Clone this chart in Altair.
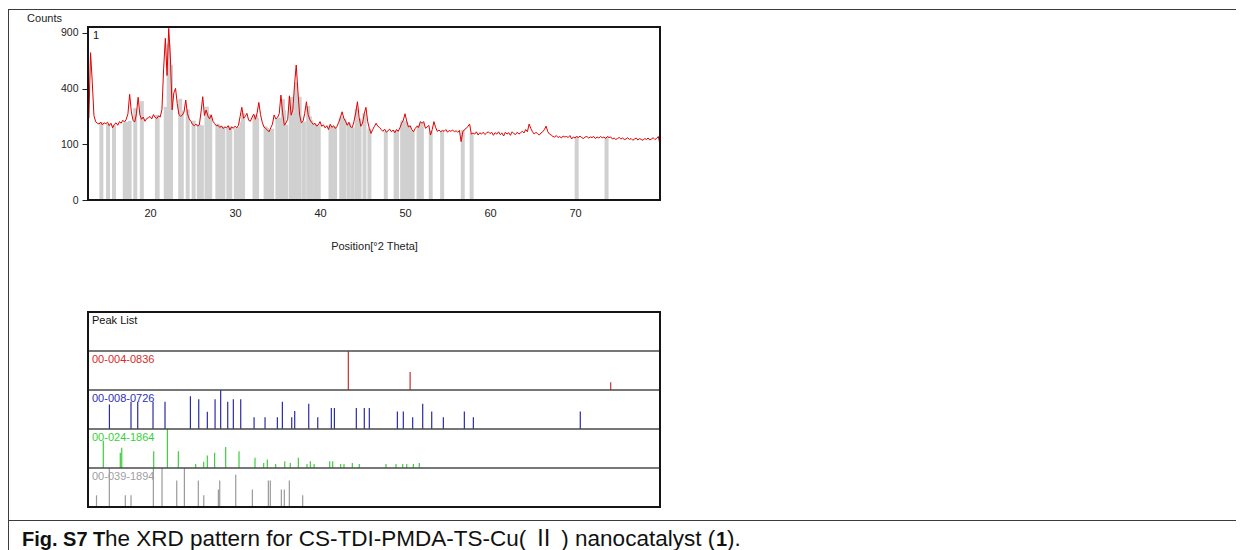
import altair as alt
import pandas as pd
import numpy as np

# ---------------- data ----------------
# XRD profile, counts on a 0.2 deg grid starting at 12.8 deg
counts = [
    215,                          # 12.8
    700, 450, 230, 198, 190,      # 13
    186, 196, 182, 192, 188,      # 14
    195, 178, 190, 168, 185,      # 15
    192, 180, 198, 190, 205,      # 16
    196, 210, 240, 360, 250,      # 17
    205, 196, 240, 340, 235,      # 18
    210, 222, 200, 214, 218,      # 19
    225, 212, 235, 220, 214,      # 20
    228, 222, 265, 560, 843,      # 21
    500, 950, 640, 262, 370,      # 22
    402, 300, 235, 226, 232,      # 23
    250, 322, 240, 212, 200,      # 24
    184, 178, 186, 176, 182,      # 25
    250, 344, 230, 261, 228,      # 26
    212, 233, 200, 188, 178,      # 27
    180, 170, 176, 165, 172,      # 28
    168, 178, 158, 172, 166,      # 29
    176, 168, 180, 225, 277,      # 30
    215, 225, 242, 205, 200,      # 31
    220, 238, 210, 245, 307,      # 32
    235, 195, 172, 165, 158,      # 33
    150, 168, 185, 233, 212,      # 34
    220, 240, 355, 245, 180,      # 35
    192, 210, 350, 232, 262,      # 36
    430, 587, 380, 232, 192,      # 37
    200, 242, 311, 235, 208,      # 38
    195, 184, 190, 176, 182,      # 39
    198, 175, 182, 168, 178,      # 40
    160, 185, 170, 178, 165,      # 41
    175, 195, 220, 251, 215,      # 42
    200, 180, 195, 172, 170,      # 43
    200, 245, 311, 220, 175,      # 44
    190, 240, 277, 200, 165,      # 45
    143, 160, 175, 190, 175,      # 46
    170, 160, 152, 162, 148,      # 47
    155, 162, 150, 158, 146,      # 48
    160, 152, 168, 190, 205,      # 49
    240, 200, 172, 178, 160,      # 50
    150, 165, 175, 170, 198,      # 51
    190, 198, 166, 172, 180,      # 52
    136, 160, 198, 170, 152,      # 53
    158, 150, 156, 152, 160,      # 54
    148, 156, 152, 158, 150,      # 55
    155, 148, 156, 110, 150,      # 56
    160, 165, 175, 186, 140,      # 57
    145, 140, 150, 136, 146,      # 58
    140, 148, 138, 145, 150,      # 59
    142, 148, 135, 146, 140,      # 60
    150, 138, 145, 132, 148,      # 61
    140, 146, 135, 150, 142,      # 62
    138, 148, 140, 146, 152,      # 63
    145, 160, 150, 186, 165,      # 64
    150, 140, 148, 142, 136,      # 65
    145, 150, 160, 176, 150,      # 66
    140, 136, 130, 128, 134,      # 67
    126, 130, 124, 132, 128,      # 68
    130, 126, 134, 120, 128,      # 69
    124, 130, 126, 132, 125,      # 70
    122, 128, 130, 124, 128,      # 71
    126, 130, 122, 128, 124,      # 72
    130, 125, 128, 122, 130,      # 73
    126, 128, 120, 124, 118,      # 74
    122, 126, 120, 124, 118,      # 75
    120, 125, 118, 122, 115,      # 76
    120, 124, 116, 122, 118,      # 77
    115, 122, 118, 124, 116,      # 78
    120, 125, 118, 122, 130,      # 79
    100,                          # 80
]
two_theta = [round(12.8 + 0.2 * i, 1) for i in range(len(counts))]

# reference patterns (position in deg 2theta, relative intensity %)
red_name = "00-004-0836"
red_pos = [43.33, 50.6, 74.2]
red_int = [100, 46, 20]

blue_name = "00-008-0726"
blue_pos = [15.22, 17.76, 18.55, 20.35, 21.76, 24.75, 25.73, 26.74, 27.65, 28.31,
            29.14, 29.8, 30.67, 32.24, 33.53, 34.98, 35.57, 36.67, 37.02, 38.67,
            39.73, 41.33, 41.69, 44.27, 45.21, 45.8, 49.1, 49.8, 50.9, 52.08,
            53.14, 54.51, 56.98, 58.04, 70.62]
blue_int = [63, 70, 70, 70, 70, 84, 76, 44, 76, 100,
            70, 76, 76, 30, 30, 30, 70, 30, 46, 65,
            30, 54, 54, 54, 54, 54, 45, 45, 30, 65,
            45, 30, 45, 30, 45]

green_name = "00-024-1864"
green_pos = [14.5, 16.5, 16.67, 20.43, 22.04, 23.33, 25.37, 26.31, 26.74, 27.6,
             28.9, 30.47, 32.35, 33.37, 33.8, 34.78, 35.85, 36.5, 37.45, 38.47,
             38.86, 39.3, 41.14, 41.49, 42.43, 42.82, 43.8, 44.62, 47.76, 48.94,
             49.73, 50.2, 50.98, 51.68]
green_int = [70, 39, 52, 43, 100, 43, 10, 16, 32, 39,
             54, 43, 26, 13, 22, 10, 17, 13, 26, 10,
             17, 10, 17, 17, 10, 10, 13, 10, 10, 10,
             10, 10, 10, 13]

grey_name = "00-039-1894"
grey_pos = [13.7, 15.21, 17.09, 17.76, 20.39, 21.41, 23.14, 24.04, 25.68, 26.32,
            28.04, 28.2, 30.08, 32.04, 33.92, 34.15, 35.45, 35.8, 36.39, 37.96]
grey_int = [30, 100, 30, 30, 100, 100, 68, 100, 68, 30,
            45, 68, 83, 45, 68, 68, 45, 45, 68, 30]

x_ticks = [20, 30, 40, 50, 60, 70]
y_ticks = [0, 100, 400, 900]
x_domain = [12.7, 80]
y_top_domain = [0, 965]

# ---------------- layout (pixels in the canvas) ----------------
W, H = 1228, 542
X_RANGE = [80, 652]
TOP_RANGE = [192, 19]
BOT_RANGE = [499, 304]

FONT = "Liberation Sans"
NARROW = "Liberation Sans Narrow, Liberation Sans"

xs = alt.Scale(domain=x_domain, range=X_RANGE, nice=False, zero=False)
ys_top = alt.Scale(type="sqrt", domain=y_top_domain, range=TOP_RANGE, nice=False)
ys_bot = alt.Scale(domain=[0, 5], range=BOT_RANGE, nice=False, zero=False)

profile = pd.DataFrame({"t": two_theta, "c": counts})

all_pos = sorted(set(red_pos + blue_pos + green_pos + grey_pos))
bars = pd.DataFrame({"t": all_pos, "c": np.interp(all_pos, two_theta, counts)})

phases = [
    (red_name, red_pos, red_int, 3, "#c8322e", "#d62a2a"),
    (blue_name, blue_pos, blue_int, 2, "#2b2ba6", "#2f2fb8"),
    (green_name, green_pos, green_int, 1, "#3ccf3c", "#38d038"),
    (grey_name, grey_pos, grey_int, 0, "#9a9a9a", "#a0a0a0"),
]
stick_rows = []
label_rows = [{"t": x_domain[0], "y": 5, "txt": "Peak List", "col": "#111111"}]
for name, pos, inten, base, scol, lcol in phases:
    for p, i in zip(pos, inten):
        stick_rows.append({"t": p, "y0": base, "y1": base + i / 100.0, "col": scol})
    label_rows.append({"t": x_domain[0], "y": base + 1, "txt": name, "col": lcol})
sticks = pd.DataFrame(stick_rows)
labels = pd.DataFrame(label_rows)
seps = pd.DataFrame({"a": [x_domain[0]] * 4, "b": [x_domain[1]] * 4, "y": [1, 2, 3, 4]})

frame_top = pd.DataFrame({"a": [x_domain[0]], "b": [x_domain[1]],
                          "lo": [y_top_domain[0]], "hi": [y_top_domain[1]]})
frame_bot = pd.DataFrame({"a": [x_domain[0]], "b": [x_domain[1]], "lo": [0], "hi": [5]})
one = pd.DataFrame({"k": [0]})

# ---------------- top panel ----------------
bar_layer = alt.Chart(bars).mark_bar(size=4, color="#d0d0d0").encode(
    x=alt.X("t:Q", scale=xs, axis=None),
    y=alt.Y("c:Q", scale=ys_top, axis=None),
)

line_layer = alt.Chart(profile).mark_line(color="#e30000", strokeWidth=1).encode(
    x=alt.X("t:Q", scale=xs, axis=alt.Axis(
        orient="bottom", offset=-(H - TOP_RANGE[0]), values=x_ticks, ticks=False,
        domain=False, grid=False, labelFont=NARROW, labelFontSize=11,
        labelColor="#222222", labelPadding=7,
        title="Position[°2 Theta]", titleFont=NARROW, titleFontSize=11,
        titleFontWeight="normal", titleColor="#222222", titlePadding=22)),
    y=alt.Y("c:Q", scale=ys_top, axis=alt.Axis(
        orient="left", offset=-X_RANGE[0], values=y_ticks, tickSize=6,
        tickColor="#222222", domain=False, grid=False, labelFont=FONT,
        labelFontSize=10.5, labelColor="#222222", labelPadding=4,
        title="Counts", titleAngle=0, titleAlign="center", titleBaseline="bottom",
        titleX=-44, titleY=15, titleFont=FONT, titleFontSize=11,
        titleFontWeight="normal", titleColor="#222222")),
)

frame_top_layer = alt.Chart(frame_top).mark_rect(
    fillOpacity=0, stroke="#151515", strokeWidth=2).encode(
    x=alt.X("a:Q", scale=xs, axis=None), x2="b:Q",
    y=alt.Y("lo:Q", scale=ys_top, axis=None), y2="hi:Q",
)

one_label = alt.Chart(pd.DataFrame({"t": [x_domain[0]], "c": [y_top_domain[1]], "txt": ["1"]})).mark_text(
    align="left", baseline="top", dx=5, dy=3, font=FONT, fontSize=11, color="#111111").encode(
    x=alt.X("t:Q", scale=xs, axis=None),
    y=alt.Y("c:Q", scale=ys_top, axis=None),
    text="txt:N",
)

# ---------------- bottom panel ----------------
stick_layer = alt.Chart(sticks).mark_rule(strokeWidth=1.2).encode(
    x=alt.X("t:Q", scale=xs, axis=None),
    y=alt.Y("y0:Q", scale=ys_bot, axis=None), y2="y1:Q",
    color=alt.Color("col:N", scale=None),
)

sep_layer = alt.Chart(seps).mark_rule(color="#4a4a4a", strokeWidth=1.5).encode(
    x=alt.X("a:Q", scale=xs, axis=None), x2="b:Q",
    y=alt.Y("y:Q", scale=ys_bot, axis=None),
)

frame_bot_layer = alt.Chart(frame_bot).mark_rect(
    fillOpacity=0, stroke="#151515", strokeWidth=2).encode(
    x=alt.X("a:Q", scale=xs, axis=None), x2="b:Q",
    y=alt.Y("lo:Q", scale=ys_bot, axis=None), y2="hi:Q",
)

label_layer = alt.Chart(labels).mark_text(
    align="left", baseline="top", dx=4, dy=3, font=FONT, fontSize=11).encode(
    x=alt.X("t:Q", scale=xs, axis=None),
    y=alt.Y("y:Q", scale=ys_bot, axis=None),
    text="txt:N",
    color=alt.Color("col:N", scale=None),
)

# ---------------- page decorations ----------------
deco = [
    alt.Chart(one).mark_rule(color="#3c3c3c", strokeWidth=1).encode(
        x=alt.value(0), x2=alt.value(W), y=alt.value(1.5)),
    alt.Chart(one).mark_rule(color="#3c3c3c", strokeWidth=1).encode(
        x=alt.value(0.5), y=alt.value(1), y2=alt.value(H)),
    alt.Chart(one).mark_rule(color="#3c3c3c", strokeWidth=1).encode(
        x=alt.value(0), x2=alt.value(W), y=alt.value(512.5)),
]

CAP_FONT = "Liberation Sans, Noto Sans CJK SC"
cap_y = 538
caption_parts = [
    ("Fig. S7 T", "bold", 20, 14),
    ("he XRD pattern for CS-TDI-PMDA-TS-Cu( Ⅱ ) nanocatalyst (", "normal", 22.5, 97),
    ("1", "bold", 20, 708),
    (").", "normal", 22.5, 719),
]
for txt, weight, size, xpos in caption_parts:
    deco.append(
        alt.Chart(pd.DataFrame({"txt": [txt]})).mark_text(
            align="left", baseline="alphabetic", font=CAP_FONT, fontSize=size,
            fontWeight=weight, color="#111111").encode(
            x=alt.value(xpos), y=alt.value(cap_y), text="txt:N")
    )

chart = alt.layer(
    bar_layer, line_layer, frame_top_layer, one_label,
    stick_layer, sep_layer, frame_bot_layer, label_layer,
    *deco,
).resolve_scale(
    x="independent", y="independent", color="independent"
).properties(
    width=W, height=H, padding=0,
    autosize=alt.AutoSizeParams(type="none"),
    background="white",
).configure_view(stroke=None)

chart.save("out.html", embed_options={"renderer": "svg", "actions": False})
